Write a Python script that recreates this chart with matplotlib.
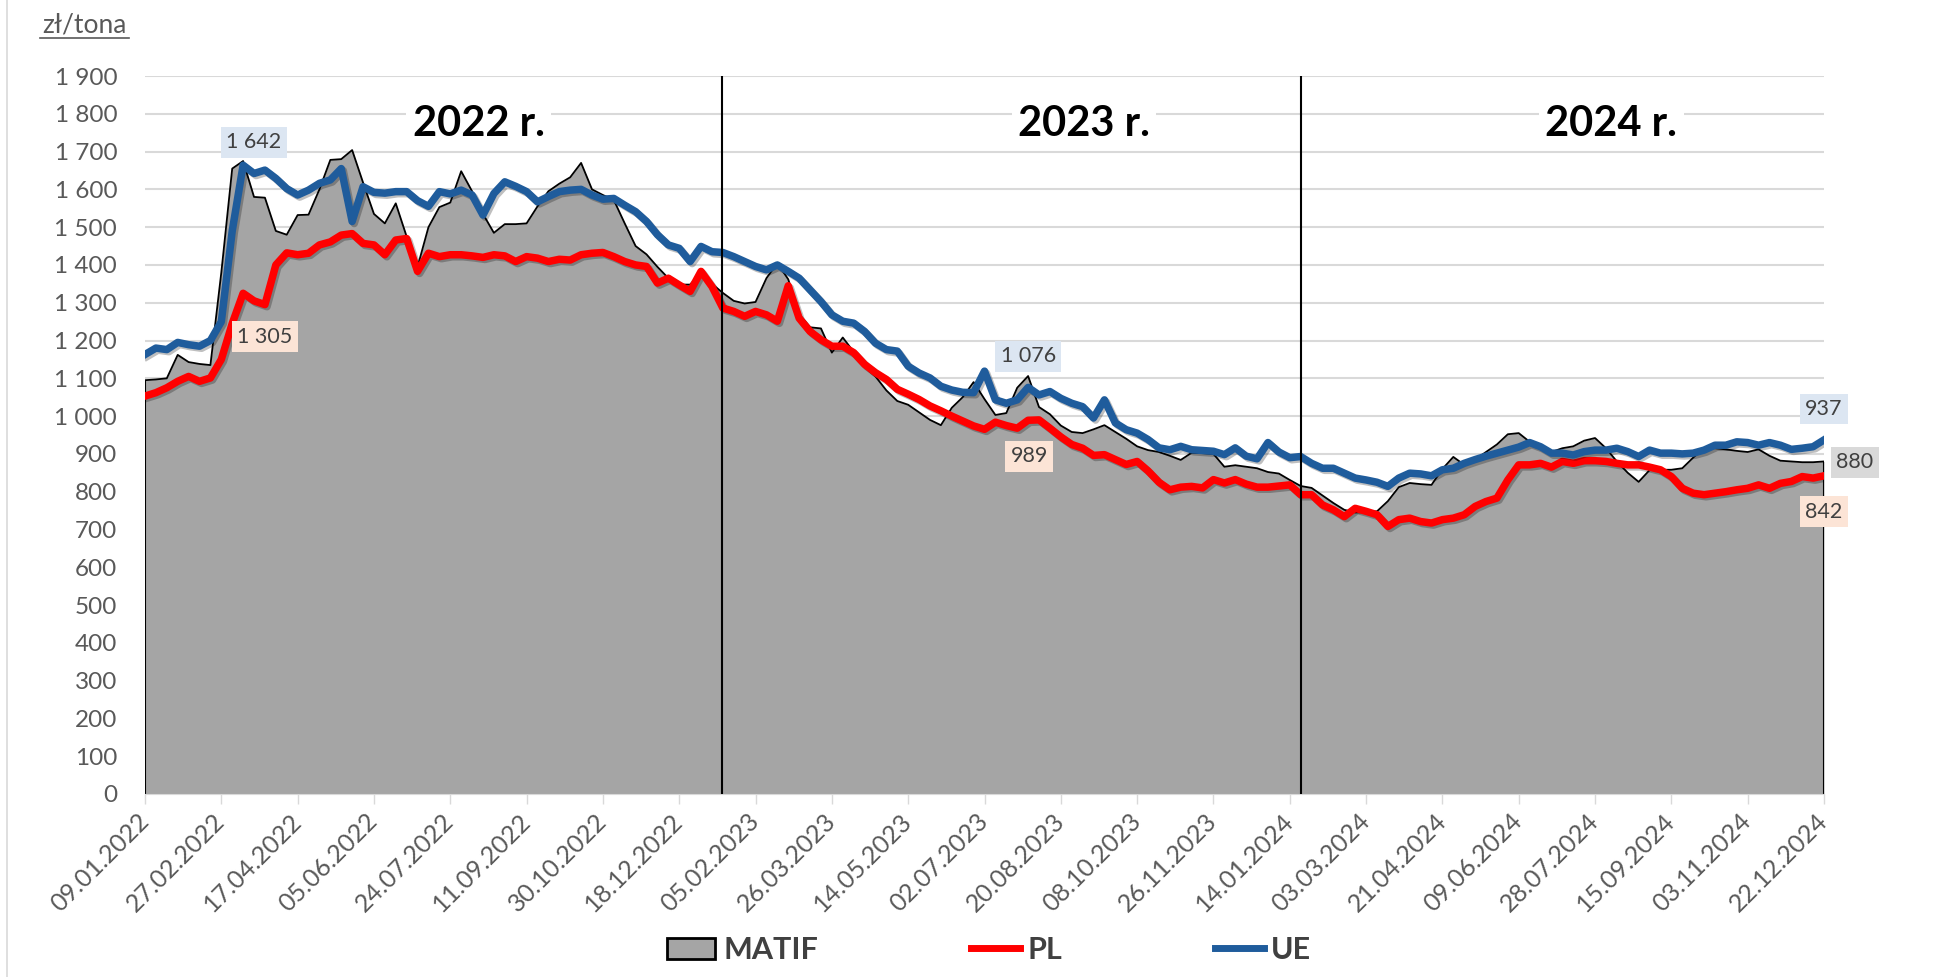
"""MATIF / PL / UE wheat prices, weekly 2022-2024."""

import matplotlib

matplotlib.use("Agg")

import matplotlib.patheffects as pe
import matplotlib.pyplot as plt
import numpy as np
from matplotlib.lines import Line2D
from matplotlib.patches import Patch

plt.rcParams["font.family"] = ["Lato", "DejaVu Sans"]

# weekly prices, zł/tona, 09.01.2022 .. 22.12.2024
MATIF = [
    1095, 1097, 1100, 1162, 1143, 1138, 1135, 1380, 1655, 1675,
    1580, 1578, 1490, 1480, 1532, 1533, 1600, 1678, 1680, 1704,
    1618, 1535, 1510, 1563, 1475, 1395, 1500, 1553, 1565, 1648,
    1595, 1535, 1485, 1508, 1508, 1510, 1555, 1595, 1615, 1632,
    1670, 1600, 1585, 1572, 1510, 1450, 1428, 1395, 1365, 1348,
    1348, 1380, 1350, 1326, 1305, 1298, 1302, 1365, 1405, 1362,
    1270, 1235, 1232, 1168, 1208, 1170, 1130, 1105, 1068, 1040,
    1030, 1010, 990, 976, 1022, 1050, 1090, 1045, 1003, 1008,
    1075, 1106, 1024, 1005, 975, 958, 955, 965, 976, 958,
    940, 920, 910, 905, 895, 884, 903, 902, 900, 866,
    870, 866, 862, 852, 848, 831, 815, 810, 790, 770,
    752, 745, 746, 748, 775, 812, 823, 820, 818, 860,
    892, 871, 885, 905, 925, 952, 955, 932, 915, 905,
    915, 920, 935, 942, 915, 880, 850, 826, 857, 858,
    858, 862, 890, 916, 915, 912, 908, 905, 912, 895,
    882, 880, 878, 878, 880,
]
PL = [
    1053, 1062, 1075, 1092, 1105, 1092, 1101, 1150, 1245, 1325,
    1305, 1295, 1400, 1432, 1427, 1431, 1453, 1461, 1479, 1483,
    1457, 1453, 1427, 1466, 1470, 1383, 1431, 1422, 1427, 1427,
    1424, 1420, 1427, 1424, 1409, 1422, 1418, 1409, 1415, 1413,
    1427, 1431, 1433, 1422, 1409, 1400, 1396, 1352, 1365, 1347,
    1330, 1383, 1343, 1286, 1277, 1264, 1277, 1268, 1251, 1345,
    1259, 1224, 1202, 1185, 1185, 1168, 1137, 1115, 1097, 1071,
    1058, 1044, 1027, 1014, 1000, 987, 974, 965, 984, 975,
    968, 989, 990, 968, 945, 925, 915, 896, 898, 885,
    872, 880, 855, 825, 805, 812, 814, 810, 832, 823,
    832, 820, 812, 812, 815, 818, 792, 792, 765, 752,
    734, 756, 748, 739, 708, 726, 730, 721, 717, 726,
    730, 739, 761, 774, 783, 831, 871, 871, 875, 865,
    880, 875, 882, 882, 880, 875, 871, 871, 865, 858,
    840, 809, 796, 792, 796, 800, 805, 809, 818, 809,
    822, 827, 840, 836, 842,
]
UE = [
    1163, 1180, 1176, 1195, 1189, 1185, 1200, 1250, 1490, 1664,
    1642, 1651, 1629, 1602, 1585, 1598, 1616, 1625, 1655, 1515,
    1607, 1592, 1590, 1594, 1594, 1570, 1555, 1594, 1588, 1598,
    1585, 1532, 1589, 1620, 1608, 1594, 1567, 1581, 1594, 1598,
    1600, 1585, 1574, 1576, 1558, 1541, 1515, 1480, 1453, 1444,
    1409, 1449, 1435, 1433, 1422, 1409, 1396, 1387, 1400, 1383,
    1365, 1334, 1303, 1268, 1251, 1246, 1224, 1193, 1176, 1172,
    1132, 1114, 1101, 1079, 1069, 1063, 1062, 1119, 1043, 1034,
    1043, 1076, 1056, 1065, 1047, 1034, 1025, 995, 1043, 982,
    964, 955, 938, 916, 911, 920, 911, 909, 907, 898,
    916, 894, 887, 930, 905, 890, 893, 875, 862, 862,
    849, 836, 831, 825, 814, 836, 849, 847, 842, 858,
    862, 875, 885, 894, 902, 910, 918, 930, 919, 902,
    902, 897, 906, 910, 910, 915, 906, 893, 910, 902,
    902, 900, 902, 910, 923, 923, 932, 930, 923, 930,
    923, 912, 915, 919, 937,
]
TICK_LABELS = [
    "09.01.2022", "27.02.2022", "17.04.2022", "05.06.2022", "24.07.2022",
    "11.09.2022", "30.10.2022", "18.12.2022", "05.02.2023", "26.03.2023",
    "14.05.2023", "02.07.2023", "20.08.2023", "08.10.2023", "26.11.2023",
    "14.01.2024", "03.03.2024", "21.04.2024", "09.06.2024", "28.07.2024",
    "15.09.2024", "03.11.2024", "22.12.2024",
]
YEARS = ["2022 r.", "2023 r.", "2024 r."]
YEAR_LABEL_WEEKS = [30.6, 86.1, 134.5]
YEAR_SPLITS = [52.9, 106.0]
LABELLED_WEEKS = [10, 81]

GRAY = "#a5a5a5"
RED = "#ff0000"
BLUE = "#1f5c9c"
TEXT = "#595959"


def fmt(value):
    return f"{value:,}".replace(",", " ")


fig = plt.figure(figsize=(19.48, 9.77), dpi=100)
ax = fig.add_axes([145 / 1948, 1 - 794 / 977, 1679 / 1948, 718 / 977])

weeks = np.arange(len(MATIF))
ax.fill_between(weeks, MATIF, color=GRAY, lw=0, zorder=2)
ax.plot(weeks, MATIF, color="black", lw=1.3, zorder=2.1)
ax.vlines([weeks[0], weeks[-1]], 0, [MATIF[0], MATIF[-1]], color="black", lw=1.5, zorder=2.1)

shadow = [pe.SimpleLineShadow(offset=(1.5, -1.5), alpha=0.25), pe.Normal()]
ax.plot(weeks, PL, color=RED, lw=5.4, zorder=3, solid_joinstyle="round", path_effects=shadow)
ax.plot(weeks, UE, color=BLUE, lw=5.4, zorder=4, solid_joinstyle="round", path_effects=shadow)

ax.vlines(YEAR_SPLITS, 0, 1900, color="black", lw=1.5, zorder=5)
for week, year in zip(YEAR_LABEL_WEEKS, YEARS):
    ax.text(week, 1773, year, ha="center", va="center", fontsize=30, fontweight="bold",
            color="black", zorder=6,
            bbox=dict(boxstyle="square,pad=0.15", fc="white", ec="none"))

ax.set_xlim(0, len(MATIF) - 1)
ax.set_ylim(0, 1900)
ax.set_yticks(range(0, 2000, 100))
ax.set_yticklabels([fmt(v) for v in range(0, 2000, 100)])
ax.set_xticks(weeks[::7])
ax.set_xticklabels(TICK_LABELS, rotation=45, ha="right", va="center", rotation_mode="anchor")
ax.tick_params(axis="y", length=0, pad=20, labelsize=17.5, labelcolor=TEXT)
ax.tick_params(axis="x", length=7, width=1, color="#d9d9d9", pad=10, labelsize=18, labelcolor=TEXT)
ax.yaxis.grid(True, color="#d9d9d9", lw=1.5)
ax.set_axisbelow(True)
for side in ["top", "right", "left"]:
    ax.spines[side].set_visible(False)
ax.spines["bottom"].set_color("#d9d9d9")

# data labels
label_style = dict(textcoords="offset pixels", ha="center", va="center", fontsize=15.5,
                   color="#404040", zorder=7)
for week in LABELLED_WEEKS + [len(UE) - 1]:
    ax.annotate(fmt(UE[week]), (week, UE[week]), xytext=(0, 31),
                bbox=dict(boxstyle="square,pad=0.25", fc="#dce6f2", ec="none"), **label_style)
for week, dx in zip(LABELLED_WEEKS + [len(PL) - 1], [11, 1, 0]):
    ax.annotate(fmt(PL[week]), (week, PL[week]), xytext=(dx, -36),
                bbox=dict(boxstyle="square,pad=0.25", fc="#fce4d6", ec="none"), **label_style)
ax.annotate(fmt(MATIF[-1]), (weeks[-1], MATIF[-1]), xytext=(31, -1),
            bbox=dict(boxstyle="square,pad=0.25", fc="#d9d9d9", ec="none"), **label_style)

fig.text(84 / 1948, 1 - 25 / 977, "zł/tona", ha="center", va="center", fontsize=19, color=TEXT)
fig.add_artist(Line2D([40 / 1948, 129 / 1948], [1 - 38 / 977] * 2, color=TEXT, lw=1.2))
fig.add_artist(Line2D([7 / 1948] * 2, [0, 1], color="#d9d9d9", lw=1.2))

handles = [
    Patch(facecolor=GRAY, edgecolor="black", lw=2, label="MATIF"),
    Line2D([], [], color=RED, lw=5, label="PL"),
    Line2D([], [], color=BLUE, lw=5, label="UE"),
]
fig.legend(handles=handles, loc="center", bbox_to_anchor=(989 / 1948, 1 - 950 / 977), ncol=3,
           frameon=False, prop=dict(size=22, weight="bold"), labelcolor="#404040",
           handlelength=1.6, handletextpad=0.25, columnspacing=5)

fig.savefig("out.png", dpi=100)
plt.close(fig)
